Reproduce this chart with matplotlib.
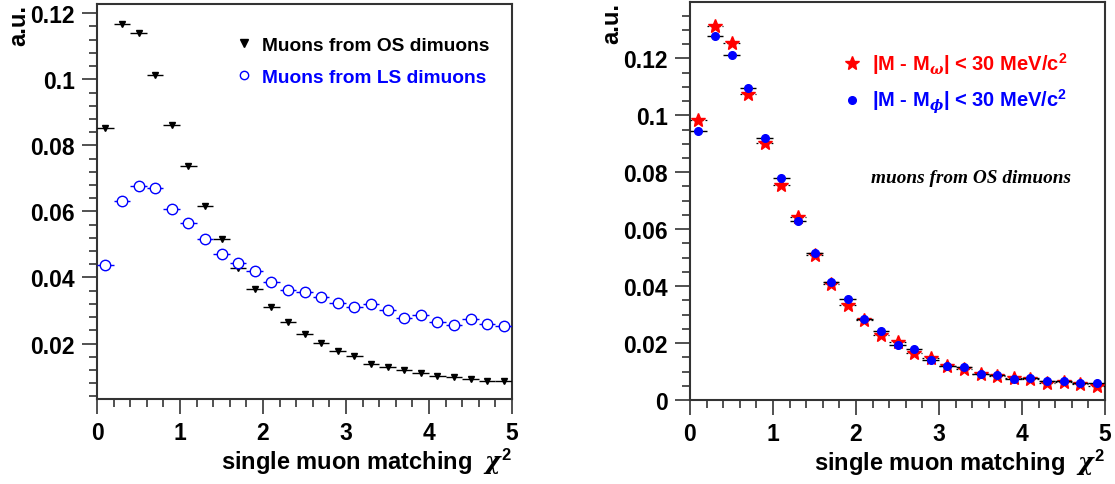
import matplotlib
matplotlib.use("Agg")
import matplotlib.pyplot as plt
import numpy as np
from matplotlib.lines import Line2D
from matplotlib.ticker import MultipleLocator

plt.rcParams['font.family'] = ['Liberation Sans', 'DejaVu Sans']
plt.rcParams['font.weight'] = 'bold'
plt.rcParams['mathtext.fontset'] = 'custom'
plt.rcParams['mathtext.rm'] = 'Liberation Sans:bold'
plt.rcParams['mathtext.it'] = 'DejaVu Serif:italic'
plt.rcParams['mathtext.bf'] = 'Liberation Sans:bold'

# chi2 bins: 25 bins of width 0.2 between 0 and 5
bin_centers = np.arange(0.1, 5.0, 0.2)
bin_half = 0.1

# left: muons from opposite-sign / like-sign dimuons
os_muons = [0.0852, 0.1166, 0.1141, 0.1013, 0.0862, 0.0739, 0.0616, 0.0516,
            0.0430, 0.0365, 0.0312, 0.0264, 0.0228, 0.0201, 0.0177, 0.0161,
            0.0139, 0.0129, 0.0119, 0.0110, 0.0103, 0.0098, 0.0092, 0.0087, 0.0085]
ls_muons = [0.0438, 0.0633, 0.0677, 0.0671, 0.0607, 0.0565, 0.0515, 0.0471,
            0.0443, 0.0419, 0.0385, 0.0362, 0.0355, 0.0342, 0.0323, 0.0310,
            0.0319, 0.0302, 0.0276, 0.0286, 0.0264, 0.0257, 0.0274, 0.0258, 0.0252]

# right: OS muons in omega and phi mass windows
omega_win = [0.0982, 0.1315, 0.1253, 0.1075, 0.0903, 0.0756, 0.0644, 0.0508,
             0.0409, 0.0333, 0.0281, 0.0229, 0.0204, 0.0164, 0.0146, 0.0120,
             0.0109, 0.0093, 0.0085, 0.0076, 0.0073, 0.0061, 0.0064, 0.0056, 0.0049]
phi_win = [0.0946, 0.1277, 0.1212, 0.1097, 0.0919, 0.0779, 0.0630, 0.0515,
           0.0413, 0.0354, 0.0285, 0.0242, 0.0192, 0.0180, 0.0139, 0.0119,
           0.0115, 0.0093, 0.0088, 0.0073, 0.0078, 0.0067, 0.0065, 0.0061, 0.0059]

W, H = 1115, 485
fig = plt.figure(figsize=(W / 100, H / 100), dpi=100)
ax1 = fig.add_axes([97 / W, 1 - 400 / H, 415 / W, 395 / H])
ax2 = fig.add_axes([690 / W, 1 - 401 / H, 415 / W, 398 / H])


def style_axes(ax, ymin, ymax, ymajor, yminor, fmt, xlab_y):
    ax.set_xlim(0, 5)
    ax.set_ylim(ymin, ymax)
    ax.xaxis.set_major_locator(MultipleLocator(1))
    ax.xaxis.set_minor_locator(MultipleLocator(0.2))
    ax.yaxis.set_major_locator(MultipleLocator(ymajor))
    ax.yaxis.set_minor_locator(MultipleLocator(yminor))
    ax.yaxis.set_major_formatter(fmt)
    ax.tick_params(which='both', direction='out', top=False, right=False,
                   width=1.2, color='#333333')
    ax.tick_params(which='major', length=11, labelsize=16.5, pad=5)
    ax.tick_params(which='minor', length=6)
    for lab in ax.get_xticklabels() + ax.get_yticklabels():
        lab.set_fontweight('bold')
    for sp in ax.spines.values():
        sp.set_linewidth(1.5)
        sp.set_color('#333333')
    ax.set_xlabel(r'single muon matching  $\chi^2$', fontsize=17,
                  fontweight='bold', ha='right', va='top')
    ax.xaxis.set_label_coords(1.0, xlab_y)
    ax.set_ylabel('a.u.', fontsize=17, fontweight='bold', ha='right', y=1.0,
                  labelpad=0)


def fmt_val(v, pos):
    if abs(v) < 1e-9:
        return '0'
    return ('%.3f' % v).rstrip('0').rstrip('.')


style_axes(ax1, 0.0032, 0.1228, 0.02, 0.004, fmt_val, -0.118)
style_axes(ax2, 0.0, 0.1398, 0.02, 0.005, fmt_val, -0.117)

# left panel
ax1.errorbar(bin_centers, os_muons, xerr=bin_half, yerr=0.0004, fmt='v',
             color='black', ms=5, elinewidth=1.0, capsize=0, zorder=3)
ax1.errorbar(bin_centers, ls_muons, xerr=bin_half, yerr=0.0004, fmt='o',
             color='#0000ff', mfc='white', mec='#0000ff', mew=1.0, ms=7.5,
             elinewidth=1.0, capsize=0, zorder=3)

h_os = Line2D([], [], ls='none', marker='v', color='black', ms=6)
h_ls = Line2D([], [], ls='none', marker='o', mfc='white', mec='#0000ff', ms=6)
leg1 = ax1.legend([h_os, h_ls], ['Muons from OS dimuons', 'Muons from LS dimuons'],
                  loc='upper left', bbox_to_anchor=(0.3155, 0.937), frameon=False,
                  prop={'weight': 'bold', 'size': 13.8}, handlelength=0.9,
                  handletextpad=0.5, labelspacing=0.76, borderaxespad=0)
leg1.get_texts()[0].set_color('black')
leg1.get_texts()[1].set_color('#0000ff')

# right panel: omega window drawn with dotted error bars
om = ax2.errorbar(bin_centers, omega_win, xerr=bin_half, yerr=0.0006, fmt='*',
                  color='red', ecolor='black', ms=10, elinewidth=0.9,
                  capsize=0, zorder=3)
for col in om[2]:
    col.set_linestyle((0, (1.5, 1.5)))
ax2.errorbar(bin_centers, phi_win, xerr=bin_half, yerr=0.0006, fmt='o',
             color='#0000ff', ecolor='black', ms=5.5, elinewidth=1.0,
             capsize=0, zorder=4)

h_om = Line2D([], [], ls='none', marker='*', color='red', ms=10)
h_phi = Line2D([], [], ls='none', marker='o', color='#0000ff', ms=5.5)
leg2 = ax2.legend([h_om, h_phi],
                  [r'|M - M$_{\omega}$| < 30 MeV/c$^{2}$',
                   r'|M - M$_{\phi}$| < 30 MeV/c$^{2}$'],
                  loc='upper left', bbox_to_anchor=(0.35, 0.90), frameon=False,
                  prop={'weight': 'bold', 'size': 14.5}, handlelength=0.9,
                  handletextpad=0.5, labelspacing=0.55, borderaxespad=0)
leg2.get_texts()[0].set_color('red')
leg2.get_texts()[1].set_color('#0000ff')

ax2.text(0.435, 0.56, 'muons from OS dimuons', transform=ax2.transAxes,
         family='Liberation Serif', style='italic', weight='bold', fontsize=13.9,
         ha='left', va='center')

fig.savefig('out.png', dpi=100)
